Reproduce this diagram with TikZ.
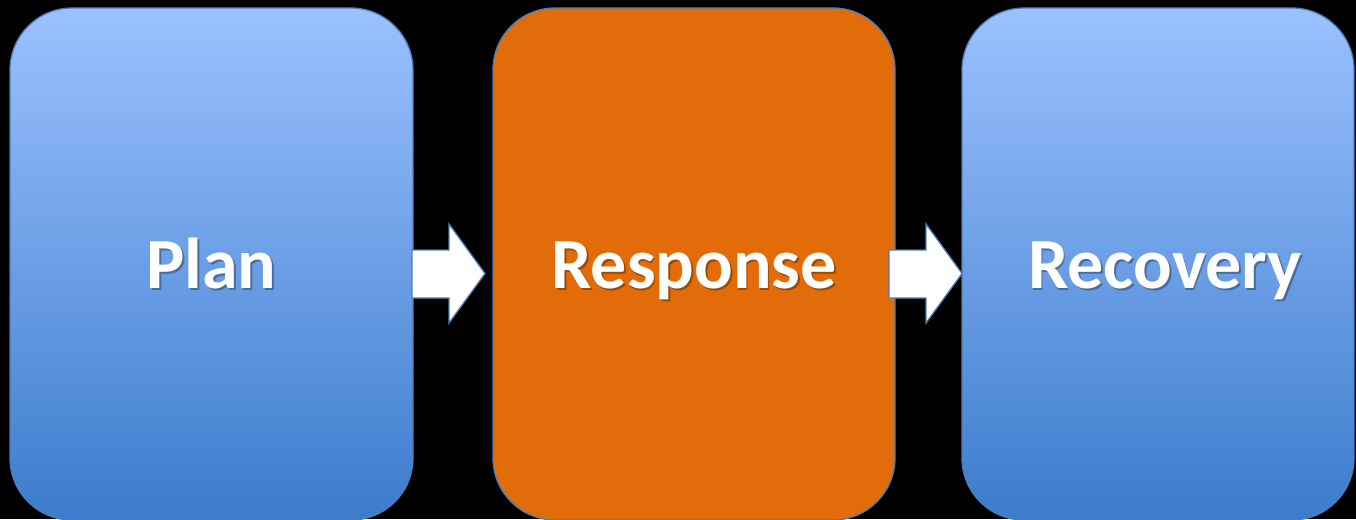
\documentclass[tikz,border=0pt]{standalone}
\usepackage{fontspec}
\setmainfont{Carlito}
\usetikzlibrary{calc}
\definecolor{topblue}{RGB}{155,193,255}
\definecolor{botblue}{RGB}{60,124,204}
\definecolor{orng}{RGB}{227,108,10}
\definecolor{edgeblue}{RGB}{74,126,187}
\begin{document}
\begin{tikzpicture}[x=1pt,y=-1pt,
  stage/.style={draw=edgeblue,line width=1.3pt,rounded corners=62pt,
    minimum height=512pt,inner sep=0pt,outer sep=0pt},
  bluestage/.style={stage,top color=topblue,bottom color=botblue},
  label/.style={font=\fontsize{72}{82}\selectfont\bfseries,text=white,anchor=base,inner sep=0pt},
  lshadow/.style={label,text=black,opacity=0.3},
  blockarrow/.style={draw=edgeblue,line width=1.3pt,fill=white,line join=miter}]
\fill[black] (0,0) rectangle (1356,519);
\useasboundingbox (0,0) rectangle (1356,519);

\node[bluestage,minimum width=403pt] (plan) at (211.5,264) {};
\node[stage,fill=orng,minimum width=402pt] (resp) at (694,264) {};
\node[bluestage,minimum width=392pt] (recov) at (1158,264) {};

\node[lshadow] (planS) at ($(plan.center)+(1.8,26.3)$) {Plan};
\node[label] (planT) at ($(plan.center)+(0,24.5)$) {Plan};
\node[lshadow] (respS) at ($(resp.center)+(1.8,26.3)$) {Response};
\node[label] (respT) at ($(resp.center)+(0,24.5)$) {Response};
\node[lshadow] (recovS) at ($(recov.center)+(8.8,26.3)$) {Recovery};
\node[label] (recovT) at ($(recov.center)+(7,24.5)$) {Recovery};

\draw[blockarrow] ($(plan.east)+(-1,-14)$) -- ++(37,0) -- ++(0,-26) -- ++(36,49.5)
  -- ++(-36,49.5) -- ++(0,-25) -- ++(-37,0) -- cycle;
\draw[blockarrow] ($(resp.east)+(-6,-14)$) -- ++(37,0) -- ++(0,-26) -- ++(36,49.5)
  -- ++(-36,49.5) -- ++(0,-25) -- ++(-37,0) -- cycle;
\end{tikzpicture}
\end{document}
